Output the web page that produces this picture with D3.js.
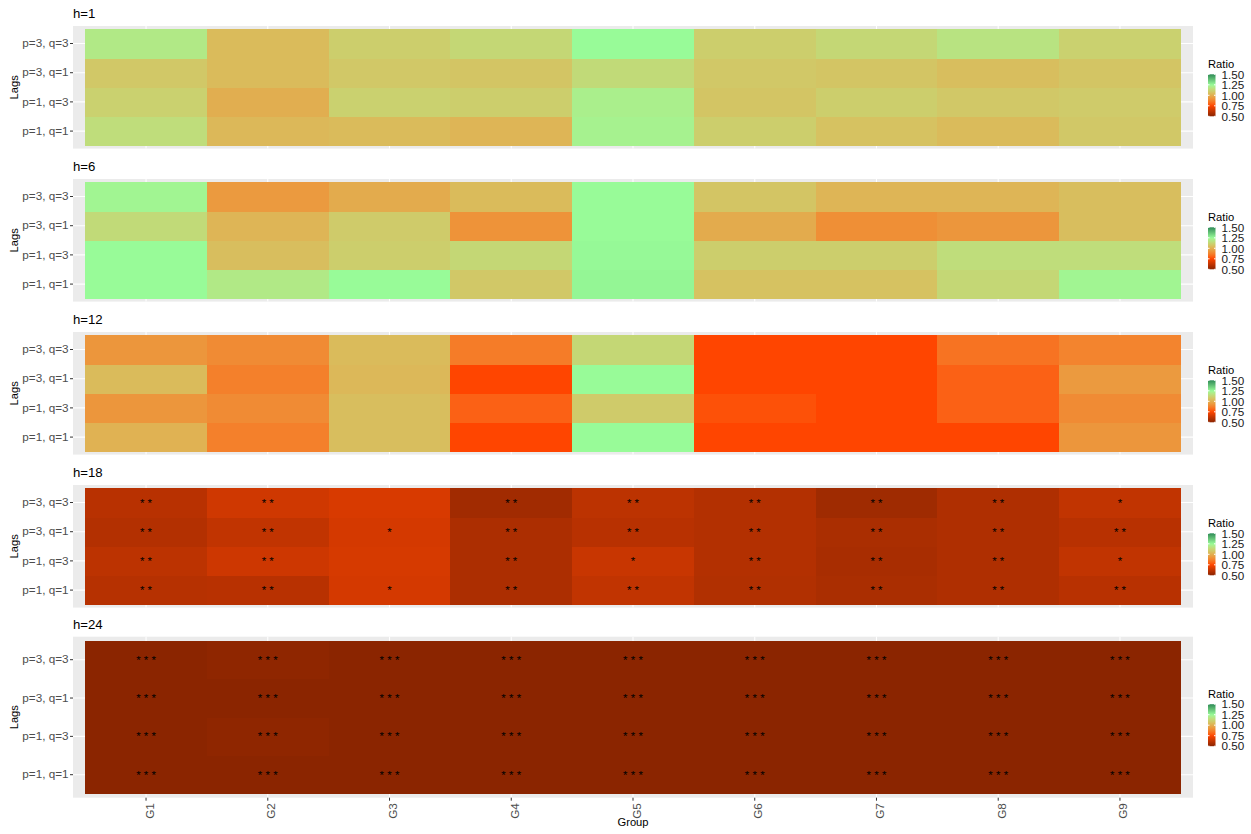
<!DOCTYPE html>
<html>
<head>
<meta charset="utf-8">
<script src="https://cdn.jsdelivr.net/npm/d3@7"></script>
<style>
body { margin: 0; background: #fff; }
svg { display: block; font-family: "Liberation Sans", Arial, sans-serif; }
</style>
</head>
<body>
<div id="chart"></div>
<script>
// categories
const groups = ["G1", "G2", "G3", "G4", "G5", "G6", "G7", "G8", "G9"]
const lags = ["p=1, q=1", "p=1, q=3", "p=3, q=1", "p=3, q=3"]
const horizons = ["h=1", "h=6", "h=12", "h=18", "h=24"]

// ratio values, one row per lag (same order as lags), one column per group
const ratioH1 = [
    [1.15, 1.03, 1.04, 1.02, 1.22, 1.10, 1.06, 1.04, 1.08],
    [1.11, 1.00, 1.11, 1.10, 1.21, 1.07, 1.10, 1.08, 1.09],
    [1.08, 1.04, 1.08, 1.07, 1.14, 1.08, 1.07, 1.05, 1.07],
    [1.19, 1.04, 1.10, 1.13, 1.25, 1.10, 1.13, 1.17, 1.11],
]
const ratioH6 = [
    [1.25, 1.19, 1.25, 1.08, 1.26, 1.06, 1.06, 1.13, 1.23],
    [1.25, 1.05, 1.10, 1.13, 1.255, 1.10, 1.10, 1.15, 1.15],
    [1.14, 1.02, 1.09, 0.92, 1.25, 0.99, 0.91, 0.93, 1.05],
    [1.23, 0.94, 0.99, 1.04, 1.25, 1.07, 1.02, 1.02, 1.05],
]
const ratioH12 = [
    [1.01, 0.87, 1.05, 0.75, 1.25, 0.75, 0.75, 0.75, 0.93],
    [0.93, 0.90, 1.05, 0.80, 1.09, 0.77, 0.75, 0.80, 0.90],
    [1.04, 0.87, 1.03, 0.75, 1.25, 0.75, 0.75, 0.80, 0.94],
    [0.93, 0.90, 1.04, 0.86, 1.13, 0.75, 0.75, 0.84, 0.88],
]
const ratioH18 = [
    [0.595, 0.60, 0.66, 0.575, 0.62, 0.585, 0.57, 0.58, 0.60],
    [0.61, 0.645, 0.665, 0.575, 0.635, 0.59, 0.565, 0.58, 0.62],
    [0.59, 0.62, 0.66, 0.575, 0.60, 0.59, 0.57, 0.58, 0.60],
    [0.60, 0.65, 0.67, 0.55, 0.61, 0.59, 0.545, 0.58, 0.62],
]
const ratioH24 = [
    [0.49, 0.49, 0.49, 0.49, 0.49, 0.49, 0.49, 0.49, 0.49],
    [0.49, 0.51, 0.49, 0.49, 0.49, 0.49, 0.49, 0.49, 0.49],
    [0.49, 0.49, 0.49, 0.49, 0.49, 0.49, 0.49, 0.49, 0.49],
    [0.49, 0.51, 0.49, 0.49, 0.49, 0.49, 0.49, 0.49, 0.49],
]

// significance stars
const noStars = lags.map(() => groups.map(() => ""))
const starsH18 = [
    ["**", "**", "*", "**", "**", "**", "**", "**", "**"],
    ["**", "**", "", "**", "*", "**", "**", "**", "*"],
    ["**", "**", "*", "**", "**", "**", "**", "**", "**"],
    ["**", "**", "", "**", "**", "**", "**", "**", "*"],
]
const starsH24 = lags.map(() => groups.map(() => "***"))

const ratioByH = [ratioH1, ratioH6, ratioH12, ratioH18, ratioH24]
const starsByH = [noStars, noStars, noStars, starsH18, starsH24]

const legendBreaks = [0.5, 0.75, 1.0, 1.25, 1.5]
const colourStops = [0.5, 0.75, 1.25, 1.5]
const colourRange = ["#8B2500", "#FF4500", "#98FB98", "#2E8B57"]

const width = 1251
const height = 834
const fs = 11.7

const color = d3
    .scaleLinear()
    .domain(colourStops)
    .range(colourRange)
    .interpolate(d3.interpolateLab)
    .clamp(true)

const svg = d3
    .select("#chart")
    .append("svg")
    .attr("width", width)
    .attr("height", height)

// gradient for the colour bars
const grad = svg
    .append("defs")
    .append("linearGradient")
    .attr("id", "ratioGrad")
    .attr("x1", 0)
    .attr("y1", 1)
    .attr("x2", 0)
    .attr("y2", 0)
grad.selectAll("stop")
    .data(d3.range(0, 1.0001, 0.02))
    .join("stop")
    .attr("offset", (t) => t)
    .attr("stop-color", (t) => color(0.5 + t))

const left = 73
const right = 1193
const panelTops = [26, 179, 332, 485, 636.7]
const panelHeights = [122.6, 122.6, 122.6, 122.6, 161]

const x = d3
    .scaleBand()
    .domain(groups)
    .range([left, right])
    .paddingInner(0)
    .paddingOuter(0.1)

horizons.forEach((title, i) => {
    const top = panelTops[i]
    const bottom = top + panelHeights[i]
    const y = d3
        .scaleBand()
        .domain(lags.slice().reverse())
        .range([top, bottom])
        .paddingInner(0)
        .paddingOuter(0.1)

    const g = svg.append("g")

    g.append("rect")
        .attr("x", left)
        .attr("y", top)
        .attr("width", right - left)
        .attr("height", bottom - top)
        .attr("fill", "#EBEBEB")

    // grid lines
    g.append("g")
        .selectAll("line")
        .data(groups)
        .join("line")
        .attr("x1", (d) => x(d) + x.bandwidth() / 2)
        .attr("x2", (d) => x(d) + x.bandwidth() / 2)
        .attr("y1", top)
        .attr("y2", bottom)
        .attr("stroke", "#fff")
        .attr("stroke-width", 1.1)
    g.append("g")
        .selectAll("line")
        .data(lags)
        .join("line")
        .attr("x1", left)
        .attr("x2", right)
        .attr("y1", (d) => y(d) + y.bandwidth() / 2)
        .attr("y2", (d) => y(d) + y.bandwidth() / 2)
        .attr("stroke", "#fff")
        .attr("stroke-width", 1.1)

    const cells = []
    ratioByH[i].forEach((row, r) => {
        row.forEach((v, c) => {
            cells.push({lag: lags[r], group: groups[c], value: v, star: starsByH[i][r][c]})
        })
    })

    g.append("g")
        .attr("shape-rendering", "crispEdges")
        .selectAll("rect")
        .data(cells)
        .join("rect")
        .attr("x", (d) => x(d.group))
        .attr("y", (d) => y(d.lag))
        .attr("width", x.bandwidth() + 0.5)
        .attr("height", y.bandwidth() + 0.5)
        .attr("fill", (d) => color(d.value))

    g.append("g")
        .selectAll("text")
        .data(cells.filter((d) => d.star))
        .join("text")
        .attr("x", (d) => x(d.group) + x.bandwidth() / 2)
        .attr("y", (d) => y(d.lag) + y.bandwidth() / 2)
        .attr("dy", "0.35em")
        .attr("text-anchor", "middle")
        .attr("font-size", 11.5)
        .attr("fill", "#000")
        .text((d) => d.star.split("").join(" "))

    // title
    g.append("text")
        .attr("x", left)
        .attr("y", top - 8)
        .attr("font-size", 13.2)
        .attr("fill", "#000")
        .text(title)

    // y axis
    const yAxis = g
        .append("g")
        .attr("transform", `translate(${left},0)`)
        .call(d3.axisLeft(y).tickSize(3).tickPadding(1.5))
    yAxis.select(".domain").remove()
    yAxis.selectAll(".tick line").attr("stroke", "#333")
    yAxis.selectAll(".tick text")
        .attr("fill", "#4D4D4D")
        .attr("font-size", fs)
        .attr("font-family", null)

    g.append("text")
        .attr("transform", `translate(18,${(top + bottom) / 2}) rotate(-90)`)
        .attr("text-anchor", "middle")
        .attr("font-size", 11.2)
        .attr("fill", "#000")
        .text("Lags")

    // legend
    const cy = (top + bottom) / 2
    const barTop = cy - 13
    const barBottom = cy + 29
    const barX = 1208
    const barW = 7.5
    const ly = d3.scaleLinear().domain([0.5, 1.5]).range([barBottom, barTop])
    const lg = g.append("g")
    lg.append("text")
        .attr("x", barX)
        .attr("y", cy - 19)
        .attr("font-size", 11.2)
        .attr("fill", "#000")
        .text("Ratio")
    lg.append("rect")
        .attr("x", barX)
        .attr("y", barTop)
        .attr("width", barW)
        .attr("height", barBottom - barTop)
        .attr("fill", "url(#ratioGrad)")
    legendBreaks.forEach((b) => {
        lg.append("line")
            .attr("x1", barX)
            .attr("x2", barX + 1.5)
            .attr("y1", ly(b))
            .attr("y2", ly(b))
            .attr("stroke", "#fff")
        lg.append("line")
            .attr("x1", barX + barW - 1.5)
            .attr("x2", barX + barW)
            .attr("y1", ly(b))
            .attr("y2", ly(b))
            .attr("stroke", "#fff")
        lg.append("text")
            .attr("x", barX + barW + 6)
            .attr("y", ly(b))
            .attr("dy", "0.36em")
            .attr("font-size", fs)
            .attr("fill", "#1A1A1A")
            .text(d3.format(".2f")(b))
    })

    // x axis only under the last panel
    if (i === horizons.length - 1) {
        const xAxis = g
            .append("g")
            .attr("transform", `translate(0,${bottom})`)
            .call(d3.axisBottom(x).tickSize(3).tickPadding(0))
        xAxis.select(".domain").remove()
        xAxis.selectAll(".tick line").attr("stroke", "#333")
        xAxis.selectAll(".tick text")
            .attr("fill", "#4D4D4D")
            .attr("font-size", fs)
            .attr("font-family", null)
            .attr("text-anchor", "end")
            .attr("dy", null)
            .attr("y", null)
            .attr("transform", "translate(3,5.5) rotate(-90)")
            .attr("dominant-baseline", "central")

        g.append("text")
            .attr("x", (left + right) / 2)
            .attr("y", 826)
            .attr("text-anchor", "middle")
            .attr("font-size", 11.2)
            .attr("fill", "#000")
            .text("Group")
    }
})
</script>
</body>
</html>
